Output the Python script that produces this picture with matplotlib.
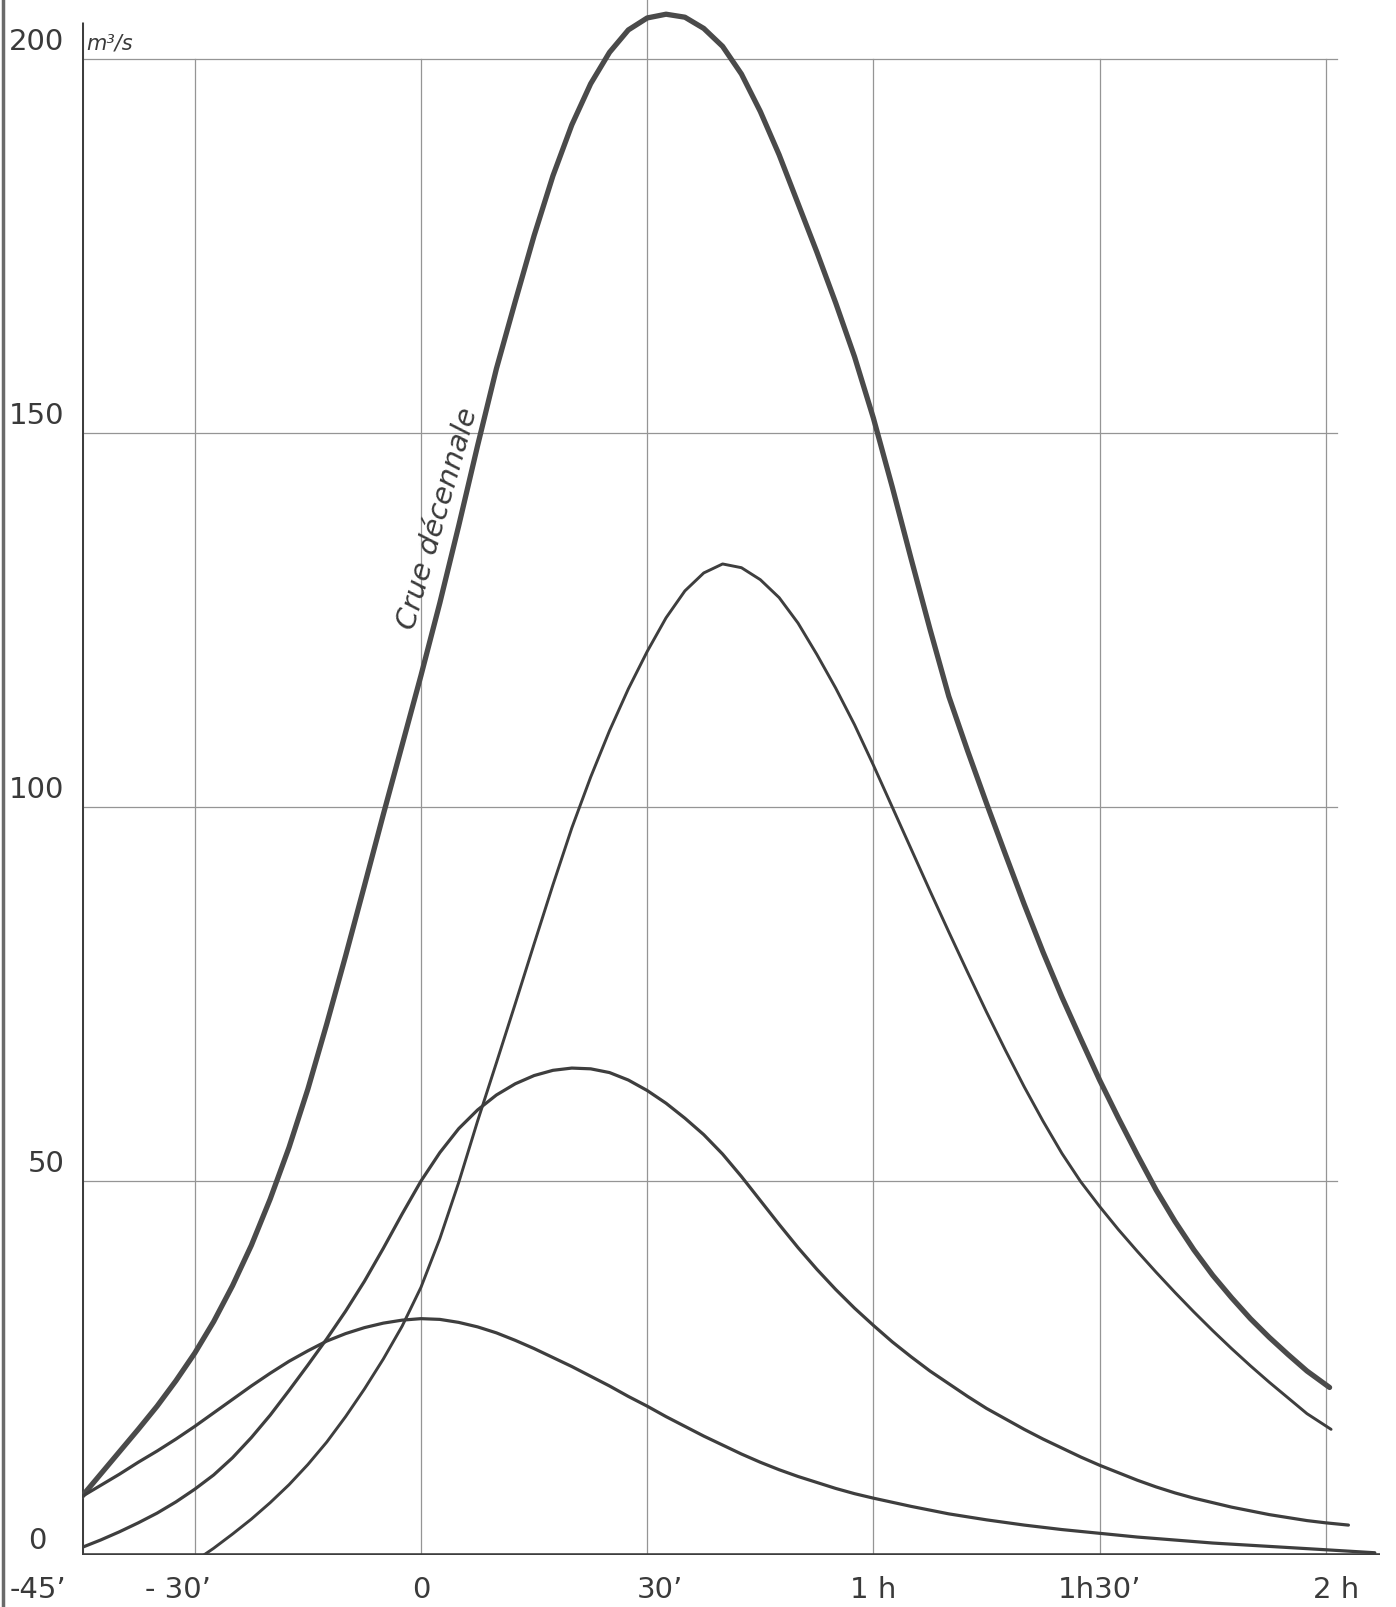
import matplotlib
matplotlib.use("Agg")
import matplotlib.pyplot as plt
from matplotlib.lines import Line2D

# ---------------- data (minutes relative to 0, discharge m3/s) ----------------
# "Crue décennale" (thick curve)
x_crue = [-45, -42.5, -40, -37.5, -35, -32.5, -30, -27.5, -25, -22.5, -20, -17.5, -15, -12.5,
          -10, -7.5, -5, -2.5, 0, 2.5, 5, 7.5, 10, 12.5, 15, 17.5, 20, 22.5, 25, 27.5, 30, 32.5,
          35, 37.5, 40, 42.5, 45, 47.5, 50, 52.5, 55, 57.5, 60, 62.5, 65, 67.5, 70, 72.5, 75,
          77.5, 80, 82.5, 85, 87.5, 90, 92.5, 95, 97.5, 100, 102.5, 105, 107.5, 110, 112.5,
          115, 117.5, 120.5]
y_crue = [7.8, 10.8, 13.8, 16.8, 19.9, 23.3, 27.0, 31.2, 36.0, 41.4, 47.6, 54.5, 62.3, 71.0,
          80.1, 89.5, 99.0, 108.3, 117.6, 127.3, 137.6, 148.3, 158.6, 167.6, 176.4, 184.4,
          191.2, 196.7, 200.9, 203.9, 205.5, 206.0, 205.6, 204.1, 201.7, 198.0, 193.0, 187.2,
          180.7, 174.2, 167.4, 160.2, 152.0, 142.8, 133.2, 123.8, 114.8, 107.5, 100.5, 93.7,
          87.0, 80.6, 74.6, 69.0, 63.5, 58.4, 53.5, 48.8, 44.6, 40.8, 37.4, 34.4, 31.6, 29.1,
          26.8, 24.6, 22.4]

# curve peaking near 130 m3/s
x_c130 = [-28.8, -27.5, -25, -22.5, -20, -17.5, -15, -12.5, -10, -7.5, -5, -2.5, 0, 2.5, 5,
          7.5, 10, 12.5, 15, 17.5, 20, 22.5, 25, 27.5, 30, 32.5, 35, 37.5, 40, 42.5, 45, 47.5,
          50, 52.5, 55, 57.5, 60, 62.5, 65, 67.5, 70, 72.5, 75, 77.5, 80, 82.5, 85, 87.5, 90,
          92.5, 95, 97.5, 100, 102.5, 105, 107.5, 110, 112.5, 115, 117.5, 120.7]
y_c130 = [0.0, 0.9, 2.8, 4.8, 7.0, 9.4, 12.1, 15.1, 18.5, 22.2, 26.2, 30.6, 35.8, 42.3, 49.8,
          58.0, 65.8, 73.7, 81.7, 89.6, 97.2, 104.0, 110.2, 115.8, 120.8, 125.3, 128.9, 131.3,
          132.5, 132.0, 130.4, 128.0, 124.6, 120.4, 115.9, 111.0, 105.6, 100.0, 94.4, 88.8,
          83.3, 77.9, 72.6, 67.5, 62.6, 58.0, 53.7, 49.9, 46.6, 43.5, 40.6, 37.8, 35.1, 32.5,
          30.0, 27.6, 25.3, 23.1, 21.0, 18.9, 16.8]

# curve peaking near 65 m3/s
x_c65 = [-45, -42.5, -40, -37.5, -35, -32.5, -30, -27.5, -25, -22.5, -20, -17.5, -15, -12.5,
         -10, -7.5, -5, -2.5, 0, 2.5, 5, 7.5, 10, 12.5, 15, 17.5, 20, 22.5, 25, 27.5, 30, 32.5,
         35, 37.5, 40, 42.5, 45, 47.5, 50, 52.5, 55, 57.5, 60, 62.5, 65, 67.5, 70, 72.5, 75,
         77.5, 80, 82.5, 85, 87.5, 90, 92.5, 95, 97.5, 100, 102.5, 105, 107.5, 110, 112.5,
         115, 117.5, 120, 123]
y_c65 = [1.0, 2.0, 3.1, 4.3, 5.6, 7.1, 8.8, 10.7, 13.0, 15.7, 18.7, 22.0, 25.4, 28.9, 32.6,
         36.6, 41.0, 45.6, 50.0, 53.8, 57.0, 59.5, 61.5, 63.0, 64.1, 64.8, 65.1, 65.0, 64.5,
         63.5, 62.1, 60.4, 58.4, 56.2, 53.6, 50.6, 47.4, 44.2, 41.1, 38.2, 35.5, 33.0, 30.7,
         28.5, 26.5, 24.6, 22.9, 21.2, 19.6, 18.2, 16.8, 15.5, 14.3, 13.1, 12.0, 11.0, 10.0,
         9.1, 8.3, 7.6, 7.0, 6.4, 5.9, 5.4, 5.0, 4.6, 4.3, 4.0]

# curve peaking near 31 m3/s
x_c30 = [-45, -42.5, -40, -37.5, -35, -32.5, -30, -27.5, -25, -22.5, -20, -17.5, -15, -12.5,
         -10, -7.5, -5, -2.5, 0, 2.5, 5, 7.5, 10, 12.5, 15, 17.5, 20, 22.5, 25, 27.5, 30, 32.5,
         35, 37.5, 40, 42.5, 45, 47.5, 50, 52.5, 55, 57.5, 60, 65, 70, 75, 80, 85, 90, 95, 100,
         105, 110, 115, 120, 126.5]
y_c30 = [7.8, 9.3, 10.8, 12.4, 13.9, 15.5, 17.2, 19.0, 20.8, 22.6, 24.3, 25.9, 27.3, 28.6,
         29.6, 30.4, 31.0, 31.4, 31.6, 31.5, 31.1, 30.5, 29.7, 28.7, 27.6, 26.4, 25.2, 23.9,
         22.6, 21.2, 19.9, 18.5, 17.2, 15.9, 14.7, 13.5, 12.4, 11.4, 10.5, 9.7, 8.9, 8.2, 7.6,
         6.5, 5.5, 4.7, 4.0, 3.4, 2.9, 2.4, 2.0, 1.6, 1.3, 1.0, 0.7, 0.3]

x_grid = [-30, 0, 30, 60, 90, 120]
y_grid = [50, 100, 150, 200]
x_tick_pos = [-50.8, -32.2, 0, 31.7, 60, 90, 121.4]
x_tick_labels = ["-45\u2019", "- 30\u2019", "0", "30\u2019", "1 h", "1h30\u2019", "2 h"]
y_tick_vals = [0, 50, 100, 150, 200]
y_tick_labels = ["0", "50", "100", "150", "200"]
unit_label = "m\u00b3/s"
curve_label = "Crue d\u00e9cennale"

# ---------------- figure ----------------
W, H = 1396, 1607
fig = plt.figure(figsize=(W / 100, H / 100), dpi=100)
fig.patch.set_facecolor("white")

ax = fig.add_axes([81.7 / W, 52 / H, 0.9371, 1555 / H])
ax.set_xlim(-45, 128.5)
ax.set_ylim(0, 207.9)
ax.axis("off")

grid_c = "#959595"
ink = "#3e3e3e"

# grid
for gx in x_grid:
    top = 207.9 if gx == 30 else 200
    ax.plot([gx, gx], [0, top], color=grid_c, lw=0.9, zorder=1)
for gy in y_grid:
    ax.plot([-45, 121.5], [gy, gy], color=grid_c, lw=0.9, zorder=1)

# axis lines
ax.plot([-45, -45], [0, 205], color=ink, lw=2.2, zorder=3, solid_capstyle="butt")
ax.plot([-45, 127.2], [0, 0], color=ink, lw=2.6, zorder=3, solid_capstyle="butt")

# curves
kw = dict(solid_capstyle="round", solid_joinstyle="round", zorder=4)
ax.plot(x_crue, y_crue, color="#4a4a4a", lw=3.8, **kw)
ax.plot(x_c130, y_c130, color=ink, lw=2.1, **kw)
ax.plot(x_c65, y_c65, color=ink, lw=2.3, **kw)
ax.plot(x_c30, y_c30, color=ink, lw=2.3, **kw)

# labels
lab_font = dict(family="DejaVu Sans", color="#3a3a3a", fontsize=21)
for v, s in zip(y_tick_vals, y_tick_labels):
    if v == 0:
        ax.text(-50.9, v + 0.8, s, ha="center", va="baseline", clip_on=False, **lab_font)
    else:
        ax.text(-47.3, v + 1.2, s, ha="right", va="baseline", clip_on=False, **lab_font)
for p, s in zip(x_tick_pos, x_tick_labels):
    ax.text(p, -5.7, s, ha="center", va="baseline", clip_on=False, **lab_font)

ax.text(-44.4, 201.3, unit_label, ha="left", va="baseline", fontsize=15,
        style="italic", color="#3a3a3a", family="DejaVu Sans")
ax.text(2.3, 138.5, curve_label, ha="center", va="center", rotation=74,
        rotation_mode="anchor", fontsize=21, style="italic", color="#3a3a3a",
        family="DejaVu Sans")

# scan border on the left edge
fig.add_artist(Line2D([3 / W, 3 / W], [0, 1], transform=fig.transFigure,
                      color="#6a6a6a", lw=2.5))

fig.savefig("out.png", dpi=100, facecolor="white")
